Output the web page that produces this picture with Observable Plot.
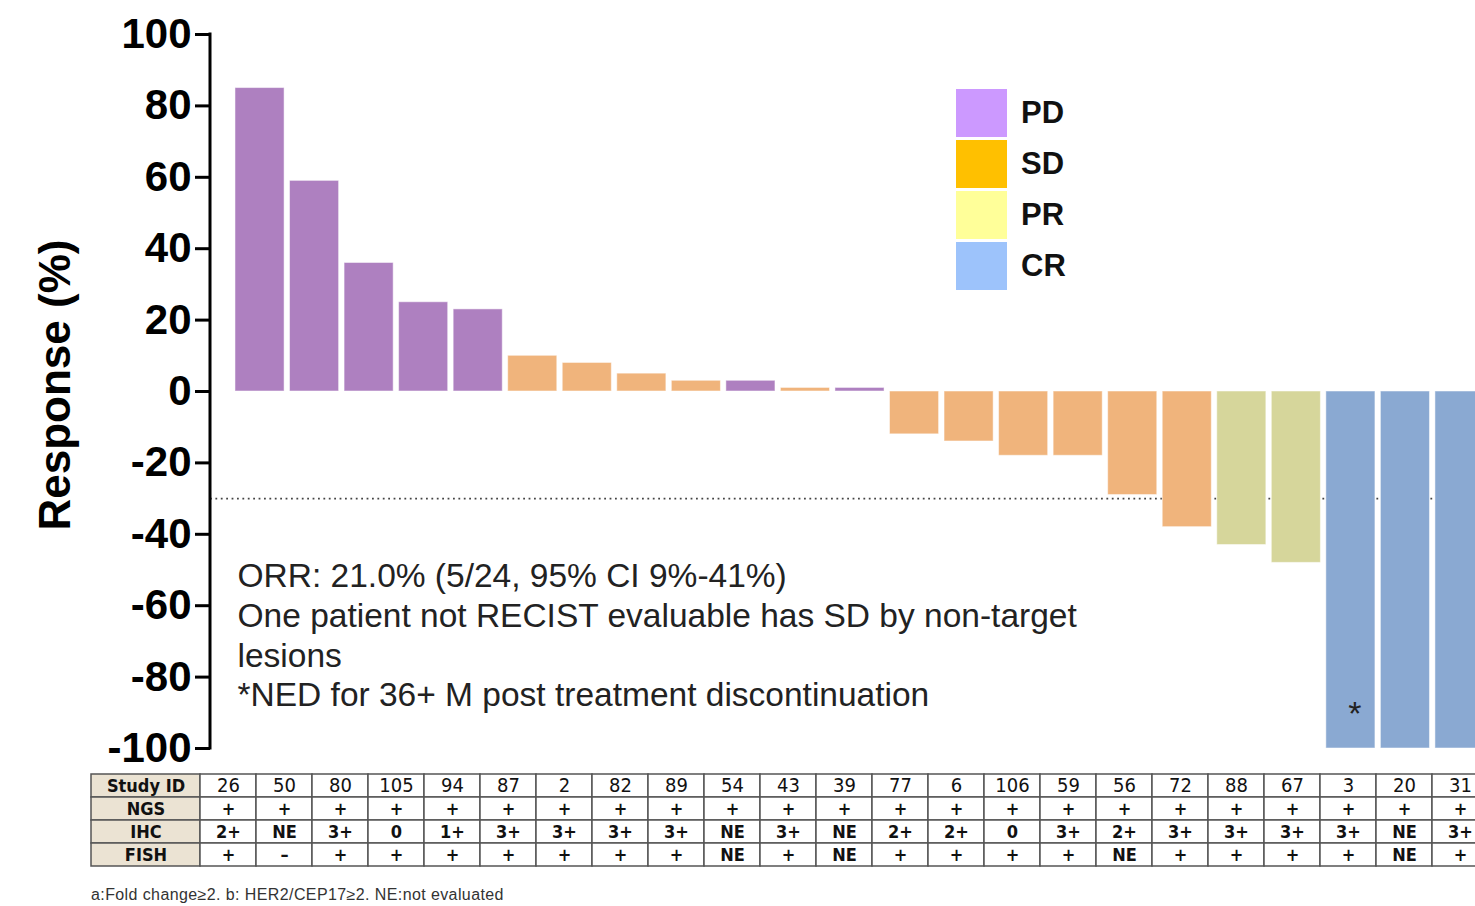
<!DOCTYPE html>
<html>
<head>
<meta charset="utf-8">
<script src="https://cdn.jsdelivr.net/npm/d3@7"></script>
<script src="https://cdn.jsdelivr.net/npm/@observablehq/plot@0.6"></script>
<style>
  html, body { margin: 0; padding: 0; background: #fff; overflow: hidden; }
  #wrap { position: relative; width: 1475px; height: 906px; overflow: hidden; font-family: "Liberation Sans", Arial, sans-serif; }
  #wrap > * { position: absolute; }
  #wrap svg { max-width: none !important; }
  .ylab { left: 55px; top: 385px; transform: translate(-50%, -50%) rotate(-90deg); font-size: 44px; font-weight: bold; white-space: nowrap; color: #000; }
  .legend { left: 956px; top: 87px; }
  .legend .row { display: flex; align-items: center; height: 51px; }
  .legend .sw { width: 51px; height: 48px; margin-right: 14px; }
  .legend .lb { font-size: 31px; font-weight: bold; color: #111; }
  .foot { left: 91px; top: 886px; font-size: 16px; color: #333; font-family: "Liberation Sans", Arial, sans-serif; letter-spacing: 0.4px; white-space: nowrap; }
</style>
</head>
<body>
<div id="wrap"></div>
<script>
// ---- data ----
const studyIds = ["26","50","80","105","94","87","2","82","89","54","43","39","77","6","106","59","56","72","88","67","3","20","31"];
const responses = [85,59,36,25,23,10,8,5,3,3,1,1,-12,-14,-18,-18,-29,-38,-43,-48,-100,-100,-100];
const bestResponse = ["PD","PD","PD","PD","PD","SD","SD","SD","SD","PD","SD","PD","SD","SD","SD","SD","SD","SD","PR","PR","CR","CR","CR"];
const ngs = ["+","+","+","+","+","+","+","+","+","+","+","+","+","+","+","+","+","+","+","+","+","+","+"];
const ihc = ["2+","NE","3+","0","1+","3+","3+","3+","3+","NE","3+","NE","2+","2+","0","3+","2+","3+","3+","3+","3+","NE","3+"];
const fish = ["+","–","+","+","+","+","+","+","+","NE","+","NE","+","+","+","+","NE","+","+","+","+","NE","+"];
const categories = ["PD","SD","PR","CR"];
const barColors = ["#ae80c0","#f0b47c","#d6d69b","#8aa9d2"];
const legendColors = ["#cc99ff","#ffc000","#ffff99","#9dc3fb"];
const yTicks = [-100,-80,-60,-40,-20,0,20,40,60,80,100];
const threshold = -30;
const starIds = ["3"];
const noteLines = [
  "ORR: 21.0% (5/24, 95% CI 9%-41%)",
  "One patient not RECIST evaluable has SD by non-target",
  "lesions",
  "*NED for 36+ M post treatment discontinuation"
];
const tableRows = ["Study ID","NGS","IHC","FISH"];
const footnote = "a:Fold change≥2. b: HER2/CEP17≥2. NE:not evaluated";

const bars = studyIds.map((id, i) => ({id, response: responses[i], best: bestResponse[i]}));
const cells = [];
studyIds.forEach((id, i) => {
  cells.push({id, row: "Study ID", v: id});
  cells.push({id, row: "NGS", v: ngs[i]});
  cells.push({id, row: "IHC", v: ihc[i]});
  cells.push({id, row: "FISH", v: fish[i]});
});

const wrap = document.getElementById("wrap");

// ---- main chart ----
const leftAxisLine = (index, scales, values, dims) => {
  const g = d3.create("svg:line")
    .attr("x1", dims.marginLeft).attr("x2", dims.marginLeft)
    .attr("y1", scales.y(100) - 1.5).attr("y2", scales.y(-100) + 1.5)
    .attr("stroke", "#000").attr("stroke-width", 3);
  return g.node();
};

const chart = Plot.plot({
  width: 1509,
  height: 760,
  marginTop: 34,
  marginBottom: 12,
  marginLeft: 210,
  marginRight: 0,
  style: {fontFamily: "'Liberation Sans', Arial, sans-serif", background: "transparent", overflow: "visible", maxWidth: "none"},
  x: {domain: studyIds, paddingInner: 0.1, paddingOuter: 0.458, round: false, axis: null},
  y: {domain: [-100, 100], axis: null},
  color: {domain: categories, range: barColors},
  marks: [
    Plot.ruleY([threshold], {stroke: "#444", strokeWidth: 1.8, strokeDasharray: "1.8,3.6"}),
    Plot.barY(bars, {x: "id", y: "response", fill: "best", stroke: "#fff", strokeOpacity: 0.5, strokeWidth: 1}),
    Plot.axisY({ticks: yTicks, tickFormat: d => String(d), tickSize: 15, tickPadding: 4, strokeWidth: 3, fontSize: 42, fontWeight: "bold", label: null, color: "#000"}),
    leftAxisLine,
    Plot.text([noteLines.join("\n")], {frameAnchor: "top-left", dx: 27, dy: 524, lineAnchor: "top", textAnchor: "start", fontSize: 33.5, lineHeight: 1.19, fill: "#222"}),
    Plot.text(starIds, {x: d => d, frameAnchor: "bottom", text: () => "*", dx: 4, dy: -34, fontSize: 34, fill: "#222", lineAnchor: "middle"})
  ]
});
chart.style.left = "0px";
chart.style.top = "0px";
wrap.appendChild(chart);

// y label
const ylab = document.createElement("div");
ylab.className = "ylab";
ylab.textContent = "Response (%)";
wrap.appendChild(ylab);

// legend
const legend = document.createElement("div");
legend.className = "legend";
categories.forEach((c, i) => {
  const row = document.createElement("div");
  row.className = "row";
  const sw = document.createElement("div");
  sw.className = "sw";
  sw.style.background = legendColors[i];
  const lb = document.createElement("div");
  lb.className = "lb";
  lb.textContent = c;
  row.appendChild(sw); row.appendChild(lb);
  legend.appendChild(row);
});
wrap.appendChild(legend);

// ---- table ----
const tableFont = "'Liberation Sans Narrow', 'DejaVu Sans Condensed', 'Liberation Sans', sans-serif";
const headerPlot = Plot.plot({
  width: 109, height: 93, margin: 0,
  style: {fontFamily: tableFont, background: "transparent", overflow: "visible", maxWidth: "none"},
  y: {domain: tableRows, padding: 0, axis: null},
  marks: [
    Plot.cell(tableRows, {y: d => d, fill: "#ebe3d3", stroke: "#555", strokeWidth: 1.5}),
    Plot.text(tableRows, {y: d => d, text: d => d, fontSize: 18, fontWeight: "bold", fill: "#111"})
  ]
});
headerPlot.style.left = "91px";
headerPlot.style.top = "773px";
wrap.appendChild(headerPlot);

const idCells = cells.filter(d => d.row === "Study ID");
const markerCells = cells.filter(d => d.row !== "Study ID");
const bodyPlot = Plot.plot({
  width: 1288, height: 93, margin: 0,
  style: {fontFamily: tableFont, background: "transparent", overflow: "visible", maxWidth: "none"},
  x: {domain: studyIds, padding: 0, axis: null},
  y: {domain: tableRows, padding: 0, axis: null},
  marks: [
    Plot.cell(cells, {x: "id", y: "row", fill: "#fff", stroke: "#555", strokeWidth: 1.5}),
    Plot.text(idCells, {x: "id", y: "row", text: "v", fontSize: 20, fill: "#111"}),
    Plot.text(markerCells, {x: "id", y: "row", text: "v", fontSize: 18, fontWeight: "bold", fill: "#111"})
  ]
});
bodyPlot.style.left = "200px";
bodyPlot.style.top = "773px";
wrap.appendChild(bodyPlot);

const foot = document.createElement("div");
foot.className = "foot";
foot.textContent = footnote;
wrap.appendChild(foot);
</script>
</body>
</html>
